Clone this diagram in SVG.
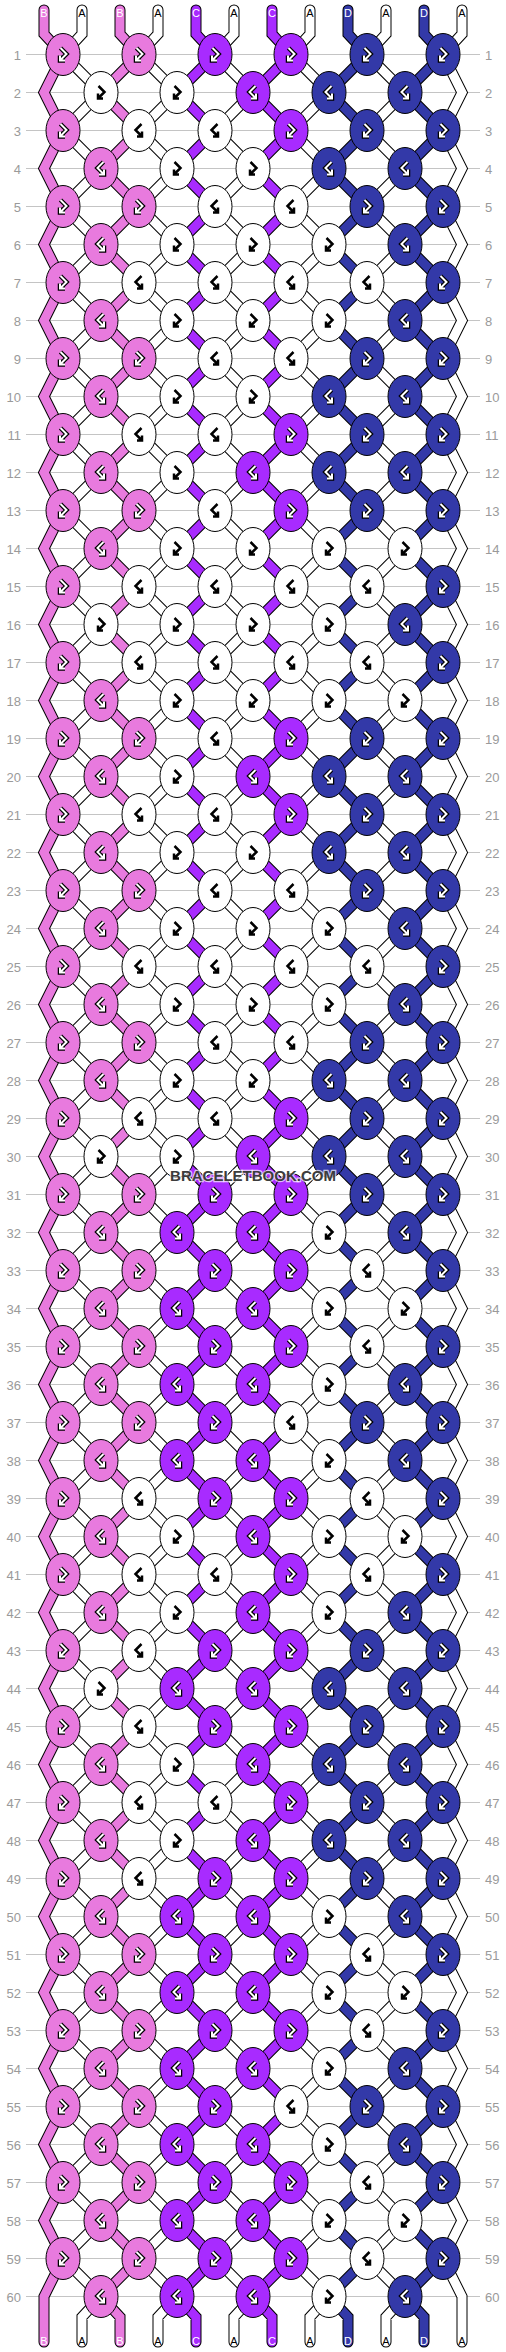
<svg xmlns="http://www.w3.org/2000/svg" width="506" height="2352" viewBox="0 0 506 2352">
<style>
.rl{stroke:#c4c4c4;stroke-width:1;fill:none}
.rn{font-family:"Liberation Sans",Arial,sans-serif;font-size:13px;fill:#9a9a9a}
.l{text-anchor:end}
.sl{font-family:"Liberation Sans",Arial,sans-serif;font-size:11px;text-anchor:middle}
.tw{fill:#fff}.tk{fill:#000}
.o{stroke:#000;stroke-width:11}
.cP{stroke:#e87ade;stroke-width:9}
.cC{stroke:#a82bff;stroke-width:9}
.cD{stroke:#3339a8;stroke-width:9}
.cA{stroke:#fff;stroke-width:9}
ellipse{stroke:#000;stroke-width:1;rx:17px;ry:21px}
.P{fill:#e87ade}.C{fill:#a82bff}.D{fill:#3339a8}.W{fill:#fff}
.so{stroke:#000;stroke-width:4.5}
.sw{stroke:#fff;stroke-width:2}
.sk{stroke:#000;stroke-width:2.5}
.wm{font-family:"Liberation Sans",Arial,sans-serif;font-size:15px;font-weight:bold;text-anchor:middle;fill:#3c3c3c;stroke:rgba(255,255,255,0.7);stroke-width:2.5;paint-order:stroke}
</style>
<defs>
<path id="zL" fill="none" stroke-linecap="round" stroke-miterlimit="10" d="M0,10V34L19,54.5 l-38,38l38,38l-38,38l38,38l-38,38l38,38l-38,38l38,38l-38,38l38,38 l-38,38l38,38l-38,38l38,38l-38,38l38,38l-38,38l38,38l-38,38l38,38 l-38,38l38,38l-38,38l38,38l-38,38l38,38l-38,38l38,38l-38,38l38,38 l-38,38l38,38l-38,38l38,38l-38,38l38,38l-38,38l38,38l-38,38l38,38 l-38,38l38,38l-38,38l38,38l-38,38l38,38l-38,38l38,38l-38,38l38,38 l-38,38l38,38l-38,38l38,38l-38,38l38,38l-38,38l38,38 l-38,38 L0,2317V2342"/>
<path id="zR" fill="none" stroke-linecap="round" stroke-miterlimit="10" d="M0,10V34L-19,54.5 l38,38l-38,38l38,38l-38,38l38,38l-38,38l38,38l-38,38l38,38l-38,38 l38,38l-38,38l38,38l-38,38l38,38l-38,38l38,38l-38,38l38,38l-38,38 l38,38l-38,38l38,38l-38,38l38,38l-38,38l38,38l-38,38l38,38l-38,38 l38,38l-38,38l38,38l-38,38l38,38l-38,38l38,38l-38,38l38,38l-38,38 l38,38l-38,38l38,38l-38,38l38,38l-38,38l38,38l-38,38l38,38l-38,38 l38,38l-38,38l38,38l-38,38l38,38l-38,38l38,38l-38,38 l38,38 L0,2317V2342"/>
<path id="z0" fill="none" stroke-linecap="round" stroke-miterlimit="10" d="M0,10V34L19,54.5 l-19,38l19,38l-19,38l19,38l-19,38l19,38l-19,38l19,38l-19,38l19,38 l-19,38l19,38l-19,38l19,38l-19,38l19,38l-19,38l19,38l-19,38l19,38 l-19,38l19,38l-19,38l19,38l-19,38l19,38l-19,38l19,38l-19,38l19,38 l-19,38l19,38l-19,38l19,38l-19,38l19,38l-19,38l19,38l-19,38l19,38 l-19,38l19,38l-19,38l19,38l-19,38l19,38l-19,38l19,38l-19,38l19,38 l-19,38l19,38l-19,38l19,38l-19,38l19,38l-19,38l19,38 l-19,38 V2342"/>
<path id="z11" fill="none" stroke-linecap="round" stroke-miterlimit="10" d="M0,10V34L-19,54.5 l19,38l-19,38l19,38l-19,38l19,38l-19,38l19,38l-19,38l19,38l-19,38 l19,38l-19,38l19,38l-19,38l19,38l-19,38l19,38l-19,38l19,38l-19,38 l19,38l-19,38l19,38l-19,38l19,38l-19,38l19,38l-19,38l19,38l-19,38 l19,38l-19,38l19,38l-19,38l19,38l-19,38l19,38l-19,38l19,38l-19,38 l19,38l-19,38l19,38l-19,38l19,38l-19,38l19,38l-19,38l19,38l-19,38 l19,38l-19,38l19,38l-19,38l19,38l-19,38l19,38l-19,38 l19,38 V2342"/>
<path id="sf" fill="none" stroke-miterlimit="10" d="M-2.5,-6.5L3.5,-0.5L-3,6M-3,1V6H2"/>
<path id="sb" fill="none" stroke-miterlimit="10" d="M2.5,-6.5L-3.5,-0.5L3,6M3,1V6H-2"/>
<g id="fW"><use href="#sf" class="so"/><use href="#sf" class="sw"/></g>
<g id="fK"><use href="#sf" class="sk"/></g>
<g id="bW"><use href="#sb" class="so"/><use href="#sb" class="sw"/></g>
<g id="bK"><use href="#sb" class="sk"/></g>
</defs>
<rect width="506" height="2352" fill="#fff"/>
<g id="rowlines">
<path class="rl" d="M26,54.5H480M26,92.5H480M26,130.5H480M26,168.5H480M26,206.5H480M26,244.5H480M26,282.5H480M26,320.5H480M26,358.5H480M26,396.5H480M26,434.5H480M26,472.5H480M26,510.5H480M26,548.5H480M26,586.5H480M26,624.5H480M26,662.5H480M26,700.5H480M26,738.5H480M26,776.5H480M26,814.5H480M26,852.5H480M26,890.5H480M26,928.5H480M26,966.5H480M26,1004.5H480M26,1042.5H480M26,1080.5H480M26,1118.5H480M26,1156.5H480M26,1194.5H480M26,1232.5H480M26,1270.5H480M26,1308.5H480M26,1346.5H480M26,1384.5H480M26,1422.5H480M26,1460.5H480M26,1498.5H480M26,1536.5H480M26,1574.5H480M26,1612.5H480M26,1650.5H480M26,1688.5H480M26,1726.5H480M26,1764.5H480M26,1802.5H480M26,1840.5H480M26,1878.5H480M26,1916.5H480M26,1954.5H480M26,1992.5H480M26,2030.5H480M26,2068.5H480M26,2106.5H480M26,2144.5H480M26,2182.5H480M26,2220.5H480M26,2258.5H480M26,2296.5H480"/>
</g>
<g id="rownumbers">
<text class="rn l" x="21" y="59.5">1</text><text class="rn" x="485" y="59.5">1</text>
<text class="rn l" x="21" y="97.5">2</text><text class="rn" x="485" y="97.5">2</text>
<text class="rn l" x="21" y="135.5">3</text><text class="rn" x="485" y="135.5">3</text>
<text class="rn l" x="21" y="173.5">4</text><text class="rn" x="485" y="173.5">4</text>
<text class="rn l" x="21" y="211.5">5</text><text class="rn" x="485" y="211.5">5</text>
<text class="rn l" x="21" y="249.5">6</text><text class="rn" x="485" y="249.5">6</text>
<text class="rn l" x="21" y="287.5">7</text><text class="rn" x="485" y="287.5">7</text>
<text class="rn l" x="21" y="325.5">8</text><text class="rn" x="485" y="325.5">8</text>
<text class="rn l" x="21" y="363.5">9</text><text class="rn" x="485" y="363.5">9</text>
<text class="rn l" x="21" y="401.5">10</text><text class="rn" x="485" y="401.5">10</text>
<text class="rn l" x="21" y="439.5">11</text><text class="rn" x="485" y="439.5">11</text>
<text class="rn l" x="21" y="477.5">12</text><text class="rn" x="485" y="477.5">12</text>
<text class="rn l" x="21" y="515.5">13</text><text class="rn" x="485" y="515.5">13</text>
<text class="rn l" x="21" y="553.5">14</text><text class="rn" x="485" y="553.5">14</text>
<text class="rn l" x="21" y="591.5">15</text><text class="rn" x="485" y="591.5">15</text>
<text class="rn l" x="21" y="629.5">16</text><text class="rn" x="485" y="629.5">16</text>
<text class="rn l" x="21" y="667.5">17</text><text class="rn" x="485" y="667.5">17</text>
<text class="rn l" x="21" y="705.5">18</text><text class="rn" x="485" y="705.5">18</text>
<text class="rn l" x="21" y="743.5">19</text><text class="rn" x="485" y="743.5">19</text>
<text class="rn l" x="21" y="781.5">20</text><text class="rn" x="485" y="781.5">20</text>
<text class="rn l" x="21" y="819.5">21</text><text class="rn" x="485" y="819.5">21</text>
<text class="rn l" x="21" y="857.5">22</text><text class="rn" x="485" y="857.5">22</text>
<text class="rn l" x="21" y="895.5">23</text><text class="rn" x="485" y="895.5">23</text>
<text class="rn l" x="21" y="933.5">24</text><text class="rn" x="485" y="933.5">24</text>
<text class="rn l" x="21" y="971.5">25</text><text class="rn" x="485" y="971.5">25</text>
<text class="rn l" x="21" y="1009.5">26</text><text class="rn" x="485" y="1009.5">26</text>
<text class="rn l" x="21" y="1047.5">27</text><text class="rn" x="485" y="1047.5">27</text>
<text class="rn l" x="21" y="1085.5">28</text><text class="rn" x="485" y="1085.5">28</text>
<text class="rn l" x="21" y="1123.5">29</text><text class="rn" x="485" y="1123.5">29</text>
<text class="rn l" x="21" y="1161.5">30</text><text class="rn" x="485" y="1161.5">30</text>
<text class="rn l" x="21" y="1199.5">31</text><text class="rn" x="485" y="1199.5">31</text>
<text class="rn l" x="21" y="1237.5">32</text><text class="rn" x="485" y="1237.5">32</text>
<text class="rn l" x="21" y="1275.5">33</text><text class="rn" x="485" y="1275.5">33</text>
<text class="rn l" x="21" y="1313.5">34</text><text class="rn" x="485" y="1313.5">34</text>
<text class="rn l" x="21" y="1351.5">35</text><text class="rn" x="485" y="1351.5">35</text>
<text class="rn l" x="21" y="1389.5">36</text><text class="rn" x="485" y="1389.5">36</text>
<text class="rn l" x="21" y="1427.5">37</text><text class="rn" x="485" y="1427.5">37</text>
<text class="rn l" x="21" y="1465.5">38</text><text class="rn" x="485" y="1465.5">38</text>
<text class="rn l" x="21" y="1503.5">39</text><text class="rn" x="485" y="1503.5">39</text>
<text class="rn l" x="21" y="1541.5">40</text><text class="rn" x="485" y="1541.5">40</text>
<text class="rn l" x="21" y="1579.5">41</text><text class="rn" x="485" y="1579.5">41</text>
<text class="rn l" x="21" y="1617.5">42</text><text class="rn" x="485" y="1617.5">42</text>
<text class="rn l" x="21" y="1655.5">43</text><text class="rn" x="485" y="1655.5">43</text>
<text class="rn l" x="21" y="1693.5">44</text><text class="rn" x="485" y="1693.5">44</text>
<text class="rn l" x="21" y="1731.5">45</text><text class="rn" x="485" y="1731.5">45</text>
<text class="rn l" x="21" y="1769.5">46</text><text class="rn" x="485" y="1769.5">46</text>
<text class="rn l" x="21" y="1807.5">47</text><text class="rn" x="485" y="1807.5">47</text>
<text class="rn l" x="21" y="1845.5">48</text><text class="rn" x="485" y="1845.5">48</text>
<text class="rn l" x="21" y="1883.5">49</text><text class="rn" x="485" y="1883.5">49</text>
<text class="rn l" x="21" y="1921.5">50</text><text class="rn" x="485" y="1921.5">50</text>
<text class="rn l" x="21" y="1959.5">51</text><text class="rn" x="485" y="1959.5">51</text>
<text class="rn l" x="21" y="1997.5">52</text><text class="rn" x="485" y="1997.5">52</text>
<text class="rn l" x="21" y="2035.5">53</text><text class="rn" x="485" y="2035.5">53</text>
<text class="rn l" x="21" y="2073.5">54</text><text class="rn" x="485" y="2073.5">54</text>
<text class="rn l" x="21" y="2111.5">55</text><text class="rn" x="485" y="2111.5">55</text>
<text class="rn l" x="21" y="2149.5">56</text><text class="rn" x="485" y="2149.5">56</text>
<text class="rn l" x="21" y="2187.5">57</text><text class="rn" x="485" y="2187.5">57</text>
<text class="rn l" x="21" y="2225.5">58</text><text class="rn" x="485" y="2225.5">58</text>
<text class="rn l" x="21" y="2263.5">59</text><text class="rn" x="485" y="2263.5">59</text>
<text class="rn l" x="21" y="2301.5">60</text><text class="rn" x="485" y="2301.5">60</text>
</g>
<g id="connectors">
<g id="s0" transform="translate(44 0)"><use href="#z0" class="o"/><use href="#z0" class="cP"/></g>
<g id="s1" transform="translate(82 0)"><use href="#zR" class="o"/><use href="#zR" class="cA"/></g>
<g id="s2" transform="translate(120 0)"><use href="#zL" class="o"/><use href="#zL" class="cP"/></g>
<g id="s3" transform="translate(158 0)"><use href="#zR" class="o"/><use href="#zR" class="cA"/></g>
<g id="s4" transform="translate(196 0)"><use href="#zL" class="o"/><use href="#zL" class="cC"/></g>
<g id="s5" transform="translate(234 0)"><use href="#zR" class="o"/><use href="#zR" class="cA"/></g>
<g id="s6" transform="translate(272 0)"><use href="#zL" class="o"/><use href="#zL" class="cC"/></g>
<g id="s7" transform="translate(310 0)"><use href="#zR" class="o"/><use href="#zR" class="cA"/></g>
<g id="s8" transform="translate(348 0)"><use href="#zL" class="o"/><use href="#zL" class="cD"/></g>
<g id="s9" transform="translate(386 0)"><use href="#zR" class="o"/><use href="#zR" class="cA"/></g>
<g id="s10" transform="translate(424 0)"><use href="#zL" class="o"/><use href="#zL" class="cD"/></g>
<g id="s11" transform="translate(462 0)"><use href="#z11" class="o"/><use href="#z11" class="cA"/></g>
</g>
<g id="labels">
<text class="sl tw" x="44" y="16.5">B</text><text class="sl tk" x="82" y="16.5">A</text><text class="sl tw" x="120" y="16.5">B</text><text class="sl tk" x="158" y="16.5">A</text><text class="sl tw" x="196" y="16.5">C</text><text class="sl tk" x="234" y="16.5">A</text><text class="sl tw" x="272" y="16.5">C</text><text class="sl tk" x="310" y="16.5">A</text><text class="sl tw" x="348" y="16.5">D</text><text class="sl tk" x="386" y="16.5">A</text><text class="sl tw" x="424" y="16.5">D</text><text class="sl tk" x="462" y="16.5">A</text>
<text class="sl tw" x="44" y="2345">B</text><text class="sl tk" x="82" y="2345">A</text><text class="sl tw" x="120" y="2345">B</text><text class="sl tk" x="158" y="2345">A</text><text class="sl tw" x="196" y="2345">C</text><text class="sl tk" x="234" y="2345">A</text><text class="sl tw" x="272" y="2345">C</text><text class="sl tk" x="310" y="2345">A</text><text class="sl tw" x="348" y="2345">D</text><text class="sl tk" x="386" y="2345">A</text><text class="sl tw" x="424" y="2345">D</text><text class="sl tk" x="462" y="2345">A</text>
</g>
<g id="knots">
<g id="n1-0" transform="translate(63 54.5)"><ellipse class="P"/><use href="#fW"/></g>
<g id="n1-2" transform="translate(139 54.5)"><ellipse class="P"/><use href="#fW"/></g>
<g id="n1-4" transform="translate(215 54.5)"><ellipse class="C"/><use href="#fW"/></g>
<g id="n1-6" transform="translate(291 54.5)"><ellipse class="C"/><use href="#fW"/></g>
<g id="n1-8" transform="translate(367 54.5)"><ellipse class="D"/><use href="#fW"/></g>
<g id="n1-10" transform="translate(443 54.5)"><ellipse class="D"/><use href="#fW"/></g>
<g id="n2-1" transform="translate(101 92.5)"><ellipse class="W"/><use href="#fK"/></g>
<g id="n2-3" transform="translate(177 92.5)"><ellipse class="W"/><use href="#fK"/></g>
<g id="n2-5" transform="translate(253 92.5)"><ellipse class="C"/><use href="#bW"/></g>
<g id="n2-7" transform="translate(329 92.5)"><ellipse class="D"/><use href="#bW"/></g>
<g id="n2-9" transform="translate(405 92.5)"><ellipse class="D"/><use href="#bW"/></g>
<g id="n3-0" transform="translate(63 130.5)"><ellipse class="P"/><use href="#fW"/></g>
<g id="n3-2" transform="translate(139 130.5)"><ellipse class="W"/><use href="#bK"/></g>
<g id="n3-4" transform="translate(215 130.5)"><ellipse class="W"/><use href="#bK"/></g>
<g id="n3-6" transform="translate(291 130.5)"><ellipse class="C"/><use href="#fW"/></g>
<g id="n3-8" transform="translate(367 130.5)"><ellipse class="D"/><use href="#fW"/></g>
<g id="n3-10" transform="translate(443 130.5)"><ellipse class="D"/><use href="#fW"/></g>
<g id="n4-1" transform="translate(101 168.5)"><ellipse class="P"/><use href="#bW"/></g>
<g id="n4-3" transform="translate(177 168.5)"><ellipse class="W"/><use href="#fK"/></g>
<g id="n4-5" transform="translate(253 168.5)"><ellipse class="W"/><use href="#fK"/></g>
<g id="n4-7" transform="translate(329 168.5)"><ellipse class="D"/><use href="#bW"/></g>
<g id="n4-9" transform="translate(405 168.5)"><ellipse class="D"/><use href="#bW"/></g>
<g id="n5-0" transform="translate(63 206.5)"><ellipse class="P"/><use href="#fW"/></g>
<g id="n5-2" transform="translate(139 206.5)"><ellipse class="P"/><use href="#fW"/></g>
<g id="n5-4" transform="translate(215 206.5)"><ellipse class="W"/><use href="#bK"/></g>
<g id="n5-6" transform="translate(291 206.5)"><ellipse class="W"/><use href="#bK"/></g>
<g id="n5-8" transform="translate(367 206.5)"><ellipse class="D"/><use href="#fW"/></g>
<g id="n5-10" transform="translate(443 206.5)"><ellipse class="D"/><use href="#fW"/></g>
<g id="n6-1" transform="translate(101 244.5)"><ellipse class="P"/><use href="#bW"/></g>
<g id="n6-3" transform="translate(177 244.5)"><ellipse class="W"/><use href="#fK"/></g>
<g id="n6-5" transform="translate(253 244.5)"><ellipse class="W"/><use href="#fK"/></g>
<g id="n6-7" transform="translate(329 244.5)"><ellipse class="W"/><use href="#fK"/></g>
<g id="n6-9" transform="translate(405 244.5)"><ellipse class="D"/><use href="#bW"/></g>
<g id="n7-0" transform="translate(63 282.5)"><ellipse class="P"/><use href="#fW"/></g>
<g id="n7-2" transform="translate(139 282.5)"><ellipse class="W"/><use href="#bK"/></g>
<g id="n7-4" transform="translate(215 282.5)"><ellipse class="W"/><use href="#bK"/></g>
<g id="n7-6" transform="translate(291 282.5)"><ellipse class="W"/><use href="#bK"/></g>
<g id="n7-8" transform="translate(367 282.5)"><ellipse class="W"/><use href="#bK"/></g>
<g id="n7-10" transform="translate(443 282.5)"><ellipse class="D"/><use href="#fW"/></g>
<g id="n8-1" transform="translate(101 320.5)"><ellipse class="P"/><use href="#bW"/></g>
<g id="n8-3" transform="translate(177 320.5)"><ellipse class="W"/><use href="#fK"/></g>
<g id="n8-5" transform="translate(253 320.5)"><ellipse class="W"/><use href="#fK"/></g>
<g id="n8-7" transform="translate(329 320.5)"><ellipse class="W"/><use href="#fK"/></g>
<g id="n8-9" transform="translate(405 320.5)"><ellipse class="D"/><use href="#bW"/></g>
<g id="n9-0" transform="translate(63 358.5)"><ellipse class="P"/><use href="#fW"/></g>
<g id="n9-2" transform="translate(139 358.5)"><ellipse class="P"/><use href="#fW"/></g>
<g id="n9-4" transform="translate(215 358.5)"><ellipse class="W"/><use href="#bK"/></g>
<g id="n9-6" transform="translate(291 358.5)"><ellipse class="W"/><use href="#bK"/></g>
<g id="n9-8" transform="translate(367 358.5)"><ellipse class="D"/><use href="#fW"/></g>
<g id="n9-10" transform="translate(443 358.5)"><ellipse class="D"/><use href="#fW"/></g>
<g id="n10-1" transform="translate(101 396.5)"><ellipse class="P"/><use href="#bW"/></g>
<g id="n10-3" transform="translate(177 396.5)"><ellipse class="W"/><use href="#fK"/></g>
<g id="n10-5" transform="translate(253 396.5)"><ellipse class="W"/><use href="#fK"/></g>
<g id="n10-7" transform="translate(329 396.5)"><ellipse class="D"/><use href="#bW"/></g>
<g id="n10-9" transform="translate(405 396.5)"><ellipse class="D"/><use href="#bW"/></g>
<g id="n11-0" transform="translate(63 434.5)"><ellipse class="P"/><use href="#fW"/></g>
<g id="n11-2" transform="translate(139 434.5)"><ellipse class="W"/><use href="#bK"/></g>
<g id="n11-4" transform="translate(215 434.5)"><ellipse class="W"/><use href="#bK"/></g>
<g id="n11-6" transform="translate(291 434.5)"><ellipse class="C"/><use href="#fW"/></g>
<g id="n11-8" transform="translate(367 434.5)"><ellipse class="D"/><use href="#fW"/></g>
<g id="n11-10" transform="translate(443 434.5)"><ellipse class="D"/><use href="#fW"/></g>
<g id="n12-1" transform="translate(101 472.5)"><ellipse class="P"/><use href="#bW"/></g>
<g id="n12-3" transform="translate(177 472.5)"><ellipse class="W"/><use href="#fK"/></g>
<g id="n12-5" transform="translate(253 472.5)"><ellipse class="C"/><use href="#bW"/></g>
<g id="n12-7" transform="translate(329 472.5)"><ellipse class="D"/><use href="#bW"/></g>
<g id="n12-9" transform="translate(405 472.5)"><ellipse class="D"/><use href="#bW"/></g>
<g id="n13-0" transform="translate(63 510.5)"><ellipse class="P"/><use href="#fW"/></g>
<g id="n13-2" transform="translate(139 510.5)"><ellipse class="P"/><use href="#fW"/></g>
<g id="n13-4" transform="translate(215 510.5)"><ellipse class="W"/><use href="#bK"/></g>
<g id="n13-6" transform="translate(291 510.5)"><ellipse class="C"/><use href="#fW"/></g>
<g id="n13-8" transform="translate(367 510.5)"><ellipse class="D"/><use href="#fW"/></g>
<g id="n13-10" transform="translate(443 510.5)"><ellipse class="D"/><use href="#fW"/></g>
<g id="n14-1" transform="translate(101 548.5)"><ellipse class="P"/><use href="#bW"/></g>
<g id="n14-3" transform="translate(177 548.5)"><ellipse class="W"/><use href="#fK"/></g>
<g id="n14-5" transform="translate(253 548.5)"><ellipse class="W"/><use href="#fK"/></g>
<g id="n14-7" transform="translate(329 548.5)"><ellipse class="W"/><use href="#fK"/></g>
<g id="n14-9" transform="translate(405 548.5)"><ellipse class="W"/><use href="#fK"/></g>
<g id="n15-0" transform="translate(63 586.5)"><ellipse class="P"/><use href="#fW"/></g>
<g id="n15-2" transform="translate(139 586.5)"><ellipse class="W"/><use href="#bK"/></g>
<g id="n15-4" transform="translate(215 586.5)"><ellipse class="W"/><use href="#bK"/></g>
<g id="n15-6" transform="translate(291 586.5)"><ellipse class="W"/><use href="#bK"/></g>
<g id="n15-8" transform="translate(367 586.5)"><ellipse class="W"/><use href="#bK"/></g>
<g id="n15-10" transform="translate(443 586.5)"><ellipse class="D"/><use href="#fW"/></g>
<g id="n16-1" transform="translate(101 624.5)"><ellipse class="W"/><use href="#fK"/></g>
<g id="n16-3" transform="translate(177 624.5)"><ellipse class="W"/><use href="#fK"/></g>
<g id="n16-5" transform="translate(253 624.5)"><ellipse class="W"/><use href="#fK"/></g>
<g id="n16-7" transform="translate(329 624.5)"><ellipse class="W"/><use href="#fK"/></g>
<g id="n16-9" transform="translate(405 624.5)"><ellipse class="D"/><use href="#bW"/></g>
<g id="n17-0" transform="translate(63 662.5)"><ellipse class="P"/><use href="#fW"/></g>
<g id="n17-2" transform="translate(139 662.5)"><ellipse class="W"/><use href="#bK"/></g>
<g id="n17-4" transform="translate(215 662.5)"><ellipse class="W"/><use href="#bK"/></g>
<g id="n17-6" transform="translate(291 662.5)"><ellipse class="W"/><use href="#bK"/></g>
<g id="n17-8" transform="translate(367 662.5)"><ellipse class="W"/><use href="#bK"/></g>
<g id="n17-10" transform="translate(443 662.5)"><ellipse class="D"/><use href="#fW"/></g>
<g id="n18-1" transform="translate(101 700.5)"><ellipse class="P"/><use href="#bW"/></g>
<g id="n18-3" transform="translate(177 700.5)"><ellipse class="W"/><use href="#fK"/></g>
<g id="n18-5" transform="translate(253 700.5)"><ellipse class="W"/><use href="#fK"/></g>
<g id="n18-7" transform="translate(329 700.5)"><ellipse class="W"/><use href="#fK"/></g>
<g id="n18-9" transform="translate(405 700.5)"><ellipse class="W"/><use href="#fK"/></g>
<g id="n19-0" transform="translate(63 738.5)"><ellipse class="P"/><use href="#fW"/></g>
<g id="n19-2" transform="translate(139 738.5)"><ellipse class="P"/><use href="#fW"/></g>
<g id="n19-4" transform="translate(215 738.5)"><ellipse class="W"/><use href="#bK"/></g>
<g id="n19-6" transform="translate(291 738.5)"><ellipse class="C"/><use href="#fW"/></g>
<g id="n19-8" transform="translate(367 738.5)"><ellipse class="D"/><use href="#fW"/></g>
<g id="n19-10" transform="translate(443 738.5)"><ellipse class="D"/><use href="#fW"/></g>
<g id="n20-1" transform="translate(101 776.5)"><ellipse class="P"/><use href="#bW"/></g>
<g id="n20-3" transform="translate(177 776.5)"><ellipse class="W"/><use href="#fK"/></g>
<g id="n20-5" transform="translate(253 776.5)"><ellipse class="C"/><use href="#bW"/></g>
<g id="n20-7" transform="translate(329 776.5)"><ellipse class="D"/><use href="#bW"/></g>
<g id="n20-9" transform="translate(405 776.5)"><ellipse class="D"/><use href="#bW"/></g>
<g id="n21-0" transform="translate(63 814.5)"><ellipse class="P"/><use href="#fW"/></g>
<g id="n21-2" transform="translate(139 814.5)"><ellipse class="W"/><use href="#bK"/></g>
<g id="n21-4" transform="translate(215 814.5)"><ellipse class="W"/><use href="#bK"/></g>
<g id="n21-6" transform="translate(291 814.5)"><ellipse class="C"/><use href="#fW"/></g>
<g id="n21-8" transform="translate(367 814.5)"><ellipse class="D"/><use href="#fW"/></g>
<g id="n21-10" transform="translate(443 814.5)"><ellipse class="D"/><use href="#fW"/></g>
<g id="n22-1" transform="translate(101 852.5)"><ellipse class="P"/><use href="#bW"/></g>
<g id="n22-3" transform="translate(177 852.5)"><ellipse class="W"/><use href="#fK"/></g>
<g id="n22-5" transform="translate(253 852.5)"><ellipse class="W"/><use href="#fK"/></g>
<g id="n22-7" transform="translate(329 852.5)"><ellipse class="D"/><use href="#bW"/></g>
<g id="n22-9" transform="translate(405 852.5)"><ellipse class="D"/><use href="#bW"/></g>
<g id="n23-0" transform="translate(63 890.5)"><ellipse class="P"/><use href="#fW"/></g>
<g id="n23-2" transform="translate(139 890.5)"><ellipse class="P"/><use href="#fW"/></g>
<g id="n23-4" transform="translate(215 890.5)"><ellipse class="W"/><use href="#bK"/></g>
<g id="n23-6" transform="translate(291 890.5)"><ellipse class="W"/><use href="#bK"/></g>
<g id="n23-8" transform="translate(367 890.5)"><ellipse class="D"/><use href="#fW"/></g>
<g id="n23-10" transform="translate(443 890.5)"><ellipse class="D"/><use href="#fW"/></g>
<g id="n24-1" transform="translate(101 928.5)"><ellipse class="P"/><use href="#bW"/></g>
<g id="n24-3" transform="translate(177 928.5)"><ellipse class="W"/><use href="#fK"/></g>
<g id="n24-5" transform="translate(253 928.5)"><ellipse class="W"/><use href="#fK"/></g>
<g id="n24-7" transform="translate(329 928.5)"><ellipse class="W"/><use href="#fK"/></g>
<g id="n24-9" transform="translate(405 928.5)"><ellipse class="D"/><use href="#bW"/></g>
<g id="n25-0" transform="translate(63 966.5)"><ellipse class="P"/><use href="#fW"/></g>
<g id="n25-2" transform="translate(139 966.5)"><ellipse class="W"/><use href="#bK"/></g>
<g id="n25-4" transform="translate(215 966.5)"><ellipse class="W"/><use href="#bK"/></g>
<g id="n25-6" transform="translate(291 966.5)"><ellipse class="W"/><use href="#bK"/></g>
<g id="n25-8" transform="translate(367 966.5)"><ellipse class="W"/><use href="#bK"/></g>
<g id="n25-10" transform="translate(443 966.5)"><ellipse class="D"/><use href="#fW"/></g>
<g id="n26-1" transform="translate(101 1004.5)"><ellipse class="P"/><use href="#bW"/></g>
<g id="n26-3" transform="translate(177 1004.5)"><ellipse class="W"/><use href="#fK"/></g>
<g id="n26-5" transform="translate(253 1004.5)"><ellipse class="W"/><use href="#fK"/></g>
<g id="n26-7" transform="translate(329 1004.5)"><ellipse class="W"/><use href="#fK"/></g>
<g id="n26-9" transform="translate(405 1004.5)"><ellipse class="D"/><use href="#bW"/></g>
<g id="n27-0" transform="translate(63 1042.5)"><ellipse class="P"/><use href="#fW"/></g>
<g id="n27-2" transform="translate(139 1042.5)"><ellipse class="P"/><use href="#fW"/></g>
<g id="n27-4" transform="translate(215 1042.5)"><ellipse class="W"/><use href="#bK"/></g>
<g id="n27-6" transform="translate(291 1042.5)"><ellipse class="W"/><use href="#bK"/></g>
<g id="n27-8" transform="translate(367 1042.5)"><ellipse class="D"/><use href="#fW"/></g>
<g id="n27-10" transform="translate(443 1042.5)"><ellipse class="D"/><use href="#fW"/></g>
<g id="n28-1" transform="translate(101 1080.5)"><ellipse class="P"/><use href="#bW"/></g>
<g id="n28-3" transform="translate(177 1080.5)"><ellipse class="W"/><use href="#fK"/></g>
<g id="n28-5" transform="translate(253 1080.5)"><ellipse class="W"/><use href="#fK"/></g>
<g id="n28-7" transform="translate(329 1080.5)"><ellipse class="D"/><use href="#bW"/></g>
<g id="n28-9" transform="translate(405 1080.5)"><ellipse class="D"/><use href="#bW"/></g>
<g id="n29-0" transform="translate(63 1118.5)"><ellipse class="P"/><use href="#fW"/></g>
<g id="n29-2" transform="translate(139 1118.5)"><ellipse class="W"/><use href="#bK"/></g>
<g id="n29-4" transform="translate(215 1118.5)"><ellipse class="W"/><use href="#bK"/></g>
<g id="n29-6" transform="translate(291 1118.5)"><ellipse class="C"/><use href="#fW"/></g>
<g id="n29-8" transform="translate(367 1118.5)"><ellipse class="D"/><use href="#fW"/></g>
<g id="n29-10" transform="translate(443 1118.5)"><ellipse class="D"/><use href="#fW"/></g>
<g id="n30-1" transform="translate(101 1156.5)"><ellipse class="W"/><use href="#fK"/></g>
<g id="n30-3" transform="translate(177 1156.5)"><ellipse class="W"/><use href="#fK"/></g>
<g id="n30-5" transform="translate(253 1156.5)"><ellipse class="C"/><use href="#bW"/></g>
<g id="n30-7" transform="translate(329 1156.5)"><ellipse class="D"/><use href="#bW"/></g>
<g id="n30-9" transform="translate(405 1156.5)"><ellipse class="D"/><use href="#bW"/></g>
<g id="n31-0" transform="translate(63 1194.5)"><ellipse class="P"/><use href="#fW"/></g>
<g id="n31-2" transform="translate(139 1194.5)"><ellipse class="P"/><use href="#fW"/></g>
<g id="n31-4" transform="translate(215 1194.5)"><ellipse class="C"/><use href="#fW"/></g>
<g id="n31-6" transform="translate(291 1194.5)"><ellipse class="C"/><use href="#fW"/></g>
<g id="n31-8" transform="translate(367 1194.5)"><ellipse class="D"/><use href="#fW"/></g>
<g id="n31-10" transform="translate(443 1194.5)"><ellipse class="D"/><use href="#fW"/></g>
<g id="n32-1" transform="translate(101 1232.5)"><ellipse class="P"/><use href="#bW"/></g>
<g id="n32-3" transform="translate(177 1232.5)"><ellipse class="C"/><use href="#bW"/></g>
<g id="n32-5" transform="translate(253 1232.5)"><ellipse class="C"/><use href="#bW"/></g>
<g id="n32-7" transform="translate(329 1232.5)"><ellipse class="W"/><use href="#fK"/></g>
<g id="n32-9" transform="translate(405 1232.5)"><ellipse class="D"/><use href="#bW"/></g>
<g id="n33-0" transform="translate(63 1270.5)"><ellipse class="P"/><use href="#fW"/></g>
<g id="n33-2" transform="translate(139 1270.5)"><ellipse class="P"/><use href="#fW"/></g>
<g id="n33-4" transform="translate(215 1270.5)"><ellipse class="C"/><use href="#fW"/></g>
<g id="n33-6" transform="translate(291 1270.5)"><ellipse class="C"/><use href="#fW"/></g>
<g id="n33-8" transform="translate(367 1270.5)"><ellipse class="W"/><use href="#bK"/></g>
<g id="n33-10" transform="translate(443 1270.5)"><ellipse class="D"/><use href="#fW"/></g>
<g id="n34-1" transform="translate(101 1308.5)"><ellipse class="P"/><use href="#bW"/></g>
<g id="n34-3" transform="translate(177 1308.5)"><ellipse class="C"/><use href="#bW"/></g>
<g id="n34-5" transform="translate(253 1308.5)"><ellipse class="C"/><use href="#bW"/></g>
<g id="n34-7" transform="translate(329 1308.5)"><ellipse class="W"/><use href="#fK"/></g>
<g id="n34-9" transform="translate(405 1308.5)"><ellipse class="W"/><use href="#fK"/></g>
<g id="n35-0" transform="translate(63 1346.5)"><ellipse class="P"/><use href="#fW"/></g>
<g id="n35-2" transform="translate(139 1346.5)"><ellipse class="P"/><use href="#fW"/></g>
<g id="n35-4" transform="translate(215 1346.5)"><ellipse class="C"/><use href="#fW"/></g>
<g id="n35-6" transform="translate(291 1346.5)"><ellipse class="C"/><use href="#fW"/></g>
<g id="n35-8" transform="translate(367 1346.5)"><ellipse class="W"/><use href="#bK"/></g>
<g id="n35-10" transform="translate(443 1346.5)"><ellipse class="D"/><use href="#fW"/></g>
<g id="n36-1" transform="translate(101 1384.5)"><ellipse class="P"/><use href="#bW"/></g>
<g id="n36-3" transform="translate(177 1384.5)"><ellipse class="C"/><use href="#bW"/></g>
<g id="n36-5" transform="translate(253 1384.5)"><ellipse class="C"/><use href="#bW"/></g>
<g id="n36-7" transform="translate(329 1384.5)"><ellipse class="W"/><use href="#fK"/></g>
<g id="n36-9" transform="translate(405 1384.5)"><ellipse class="D"/><use href="#bW"/></g>
<g id="n37-0" transform="translate(63 1422.5)"><ellipse class="P"/><use href="#fW"/></g>
<g id="n37-2" transform="translate(139 1422.5)"><ellipse class="P"/><use href="#fW"/></g>
<g id="n37-4" transform="translate(215 1422.5)"><ellipse class="C"/><use href="#fW"/></g>
<g id="n37-6" transform="translate(291 1422.5)"><ellipse class="W"/><use href="#bK"/></g>
<g id="n37-8" transform="translate(367 1422.5)"><ellipse class="D"/><use href="#fW"/></g>
<g id="n37-10" transform="translate(443 1422.5)"><ellipse class="D"/><use href="#fW"/></g>
<g id="n38-1" transform="translate(101 1460.5)"><ellipse class="P"/><use href="#bW"/></g>
<g id="n38-3" transform="translate(177 1460.5)"><ellipse class="C"/><use href="#bW"/></g>
<g id="n38-5" transform="translate(253 1460.5)"><ellipse class="C"/><use href="#bW"/></g>
<g id="n38-7" transform="translate(329 1460.5)"><ellipse class="W"/><use href="#fK"/></g>
<g id="n38-9" transform="translate(405 1460.5)"><ellipse class="D"/><use href="#bW"/></g>
<g id="n39-0" transform="translate(63 1498.5)"><ellipse class="P"/><use href="#fW"/></g>
<g id="n39-2" transform="translate(139 1498.5)"><ellipse class="W"/><use href="#bK"/></g>
<g id="n39-4" transform="translate(215 1498.5)"><ellipse class="C"/><use href="#fW"/></g>
<g id="n39-6" transform="translate(291 1498.5)"><ellipse class="C"/><use href="#fW"/></g>
<g id="n39-8" transform="translate(367 1498.5)"><ellipse class="W"/><use href="#bK"/></g>
<g id="n39-10" transform="translate(443 1498.5)"><ellipse class="D"/><use href="#fW"/></g>
<g id="n40-1" transform="translate(101 1536.5)"><ellipse class="P"/><use href="#bW"/></g>
<g id="n40-3" transform="translate(177 1536.5)"><ellipse class="W"/><use href="#fK"/></g>
<g id="n40-5" transform="translate(253 1536.5)"><ellipse class="C"/><use href="#bW"/></g>
<g id="n40-7" transform="translate(329 1536.5)"><ellipse class="W"/><use href="#fK"/></g>
<g id="n40-9" transform="translate(405 1536.5)"><ellipse class="W"/><use href="#fK"/></g>
<g id="n41-0" transform="translate(63 1574.5)"><ellipse class="P"/><use href="#fW"/></g>
<g id="n41-2" transform="translate(139 1574.5)"><ellipse class="W"/><use href="#bK"/></g>
<g id="n41-4" transform="translate(215 1574.5)"><ellipse class="W"/><use href="#bK"/></g>
<g id="n41-6" transform="translate(291 1574.5)"><ellipse class="C"/><use href="#fW"/></g>
<g id="n41-8" transform="translate(367 1574.5)"><ellipse class="W"/><use href="#bK"/></g>
<g id="n41-10" transform="translate(443 1574.5)"><ellipse class="D"/><use href="#fW"/></g>
<g id="n42-1" transform="translate(101 1612.5)"><ellipse class="P"/><use href="#bW"/></g>
<g id="n42-3" transform="translate(177 1612.5)"><ellipse class="W"/><use href="#fK"/></g>
<g id="n42-5" transform="translate(253 1612.5)"><ellipse class="C"/><use href="#bW"/></g>
<g id="n42-7" transform="translate(329 1612.5)"><ellipse class="W"/><use href="#fK"/></g>
<g id="n42-9" transform="translate(405 1612.5)"><ellipse class="D"/><use href="#bW"/></g>
<g id="n43-0" transform="translate(63 1650.5)"><ellipse class="P"/><use href="#fW"/></g>
<g id="n43-2" transform="translate(139 1650.5)"><ellipse class="W"/><use href="#bK"/></g>
<g id="n43-4" transform="translate(215 1650.5)"><ellipse class="C"/><use href="#fW"/></g>
<g id="n43-6" transform="translate(291 1650.5)"><ellipse class="C"/><use href="#fW"/></g>
<g id="n43-8" transform="translate(367 1650.5)"><ellipse class="D"/><use href="#fW"/></g>
<g id="n43-10" transform="translate(443 1650.5)"><ellipse class="D"/><use href="#fW"/></g>
<g id="n44-1" transform="translate(101 1688.5)"><ellipse class="W"/><use href="#fK"/></g>
<g id="n44-3" transform="translate(177 1688.5)"><ellipse class="C"/><use href="#bW"/></g>
<g id="n44-5" transform="translate(253 1688.5)"><ellipse class="C"/><use href="#bW"/></g>
<g id="n44-7" transform="translate(329 1688.5)"><ellipse class="D"/><use href="#bW"/></g>
<g id="n44-9" transform="translate(405 1688.5)"><ellipse class="D"/><use href="#bW"/></g>
<g id="n45-0" transform="translate(63 1726.5)"><ellipse class="P"/><use href="#fW"/></g>
<g id="n45-2" transform="translate(139 1726.5)"><ellipse class="W"/><use href="#bK"/></g>
<g id="n45-4" transform="translate(215 1726.5)"><ellipse class="C"/><use href="#fW"/></g>
<g id="n45-6" transform="translate(291 1726.5)"><ellipse class="C"/><use href="#fW"/></g>
<g id="n45-8" transform="translate(367 1726.5)"><ellipse class="D"/><use href="#fW"/></g>
<g id="n45-10" transform="translate(443 1726.5)"><ellipse class="D"/><use href="#fW"/></g>
<g id="n46-1" transform="translate(101 1764.5)"><ellipse class="P"/><use href="#bW"/></g>
<g id="n46-3" transform="translate(177 1764.5)"><ellipse class="W"/><use href="#fK"/></g>
<g id="n46-5" transform="translate(253 1764.5)"><ellipse class="C"/><use href="#bW"/></g>
<g id="n46-7" transform="translate(329 1764.5)"><ellipse class="D"/><use href="#bW"/></g>
<g id="n46-9" transform="translate(405 1764.5)"><ellipse class="D"/><use href="#bW"/></g>
<g id="n47-0" transform="translate(63 1802.5)"><ellipse class="P"/><use href="#fW"/></g>
<g id="n47-2" transform="translate(139 1802.5)"><ellipse class="W"/><use href="#bK"/></g>
<g id="n47-4" transform="translate(215 1802.5)"><ellipse class="W"/><use href="#bK"/></g>
<g id="n47-6" transform="translate(291 1802.5)"><ellipse class="C"/><use href="#fW"/></g>
<g id="n47-8" transform="translate(367 1802.5)"><ellipse class="D"/><use href="#fW"/></g>
<g id="n47-10" transform="translate(443 1802.5)"><ellipse class="D"/><use href="#fW"/></g>
<g id="n48-1" transform="translate(101 1840.5)"><ellipse class="P"/><use href="#bW"/></g>
<g id="n48-3" transform="translate(177 1840.5)"><ellipse class="W"/><use href="#fK"/></g>
<g id="n48-5" transform="translate(253 1840.5)"><ellipse class="C"/><use href="#bW"/></g>
<g id="n48-7" transform="translate(329 1840.5)"><ellipse class="D"/><use href="#bW"/></g>
<g id="n48-9" transform="translate(405 1840.5)"><ellipse class="D"/><use href="#bW"/></g>
<g id="n49-0" transform="translate(63 1878.5)"><ellipse class="P"/><use href="#fW"/></g>
<g id="n49-2" transform="translate(139 1878.5)"><ellipse class="W"/><use href="#bK"/></g>
<g id="n49-4" transform="translate(215 1878.5)"><ellipse class="C"/><use href="#fW"/></g>
<g id="n49-6" transform="translate(291 1878.5)"><ellipse class="C"/><use href="#fW"/></g>
<g id="n49-8" transform="translate(367 1878.5)"><ellipse class="D"/><use href="#fW"/></g>
<g id="n49-10" transform="translate(443 1878.5)"><ellipse class="D"/><use href="#fW"/></g>
<g id="n50-1" transform="translate(101 1916.5)"><ellipse class="P"/><use href="#bW"/></g>
<g id="n50-3" transform="translate(177 1916.5)"><ellipse class="C"/><use href="#bW"/></g>
<g id="n50-5" transform="translate(253 1916.5)"><ellipse class="C"/><use href="#bW"/></g>
<g id="n50-7" transform="translate(329 1916.5)"><ellipse class="W"/><use href="#fK"/></g>
<g id="n50-9" transform="translate(405 1916.5)"><ellipse class="D"/><use href="#bW"/></g>
<g id="n51-0" transform="translate(63 1954.5)"><ellipse class="P"/><use href="#fW"/></g>
<g id="n51-2" transform="translate(139 1954.5)"><ellipse class="P"/><use href="#fW"/></g>
<g id="n51-4" transform="translate(215 1954.5)"><ellipse class="C"/><use href="#fW"/></g>
<g id="n51-6" transform="translate(291 1954.5)"><ellipse class="C"/><use href="#fW"/></g>
<g id="n51-8" transform="translate(367 1954.5)"><ellipse class="W"/><use href="#bK"/></g>
<g id="n51-10" transform="translate(443 1954.5)"><ellipse class="D"/><use href="#fW"/></g>
<g id="n52-1" transform="translate(101 1992.5)"><ellipse class="P"/><use href="#bW"/></g>
<g id="n52-3" transform="translate(177 1992.5)"><ellipse class="C"/><use href="#bW"/></g>
<g id="n52-5" transform="translate(253 1992.5)"><ellipse class="C"/><use href="#bW"/></g>
<g id="n52-7" transform="translate(329 1992.5)"><ellipse class="W"/><use href="#fK"/></g>
<g id="n52-9" transform="translate(405 1992.5)"><ellipse class="W"/><use href="#fK"/></g>
<g id="n53-0" transform="translate(63 2030.5)"><ellipse class="P"/><use href="#fW"/></g>
<g id="n53-2" transform="translate(139 2030.5)"><ellipse class="P"/><use href="#fW"/></g>
<g id="n53-4" transform="translate(215 2030.5)"><ellipse class="C"/><use href="#fW"/></g>
<g id="n53-6" transform="translate(291 2030.5)"><ellipse class="C"/><use href="#fW"/></g>
<g id="n53-8" transform="translate(367 2030.5)"><ellipse class="W"/><use href="#bK"/></g>
<g id="n53-10" transform="translate(443 2030.5)"><ellipse class="D"/><use href="#fW"/></g>
<g id="n54-1" transform="translate(101 2068.5)"><ellipse class="P"/><use href="#bW"/></g>
<g id="n54-3" transform="translate(177 2068.5)"><ellipse class="C"/><use href="#bW"/></g>
<g id="n54-5" transform="translate(253 2068.5)"><ellipse class="C"/><use href="#bW"/></g>
<g id="n54-7" transform="translate(329 2068.5)"><ellipse class="W"/><use href="#fK"/></g>
<g id="n54-9" transform="translate(405 2068.5)"><ellipse class="D"/><use href="#bW"/></g>
<g id="n55-0" transform="translate(63 2106.5)"><ellipse class="P"/><use href="#fW"/></g>
<g id="n55-2" transform="translate(139 2106.5)"><ellipse class="P"/><use href="#fW"/></g>
<g id="n55-4" transform="translate(215 2106.5)"><ellipse class="C"/><use href="#fW"/></g>
<g id="n55-6" transform="translate(291 2106.5)"><ellipse class="W"/><use href="#bK"/></g>
<g id="n55-8" transform="translate(367 2106.5)"><ellipse class="D"/><use href="#fW"/></g>
<g id="n55-10" transform="translate(443 2106.5)"><ellipse class="D"/><use href="#fW"/></g>
<g id="n56-1" transform="translate(101 2144.5)"><ellipse class="P"/><use href="#bW"/></g>
<g id="n56-3" transform="translate(177 2144.5)"><ellipse class="C"/><use href="#bW"/></g>
<g id="n56-5" transform="translate(253 2144.5)"><ellipse class="C"/><use href="#bW"/></g>
<g id="n56-7" transform="translate(329 2144.5)"><ellipse class="W"/><use href="#fK"/></g>
<g id="n56-9" transform="translate(405 2144.5)"><ellipse class="D"/><use href="#bW"/></g>
<g id="n57-0" transform="translate(63 2182.5)"><ellipse class="P"/><use href="#fW"/></g>
<g id="n57-2" transform="translate(139 2182.5)"><ellipse class="P"/><use href="#fW"/></g>
<g id="n57-4" transform="translate(215 2182.5)"><ellipse class="C"/><use href="#fW"/></g>
<g id="n57-6" transform="translate(291 2182.5)"><ellipse class="C"/><use href="#fW"/></g>
<g id="n57-8" transform="translate(367 2182.5)"><ellipse class="W"/><use href="#bK"/></g>
<g id="n57-10" transform="translate(443 2182.5)"><ellipse class="D"/><use href="#fW"/></g>
<g id="n58-1" transform="translate(101 2220.5)"><ellipse class="P"/><use href="#bW"/></g>
<g id="n58-3" transform="translate(177 2220.5)"><ellipse class="C"/><use href="#bW"/></g>
<g id="n58-5" transform="translate(253 2220.5)"><ellipse class="C"/><use href="#bW"/></g>
<g id="n58-7" transform="translate(329 2220.5)"><ellipse class="W"/><use href="#fK"/></g>
<g id="n58-9" transform="translate(405 2220.5)"><ellipse class="W"/><use href="#fK"/></g>
<g id="n59-0" transform="translate(63 2258.5)"><ellipse class="P"/><use href="#fW"/></g>
<g id="n59-2" transform="translate(139 2258.5)"><ellipse class="P"/><use href="#fW"/></g>
<g id="n59-4" transform="translate(215 2258.5)"><ellipse class="C"/><use href="#fW"/></g>
<g id="n59-6" transform="translate(291 2258.5)"><ellipse class="C"/><use href="#fW"/></g>
<g id="n59-8" transform="translate(367 2258.5)"><ellipse class="W"/><use href="#bK"/></g>
<g id="n59-10" transform="translate(443 2258.5)"><ellipse class="D"/><use href="#fW"/></g>
<g id="n60-1" transform="translate(101 2296.5)"><ellipse class="P"/><use href="#bW"/></g>
<g id="n60-3" transform="translate(177 2296.5)"><ellipse class="C"/><use href="#bW"/></g>
<g id="n60-5" transform="translate(253 2296.5)"><ellipse class="C"/><use href="#bW"/></g>
<g id="n60-7" transform="translate(329 2296.5)"><ellipse class="W"/><use href="#fK"/></g>
<g id="n60-9" transform="translate(405 2296.5)"><ellipse class="D"/><use href="#bW"/></g>
</g>
<text id="watermark" class="wm" x="253" y="1181">BRACELETBOOK.COM</text>
</svg>
